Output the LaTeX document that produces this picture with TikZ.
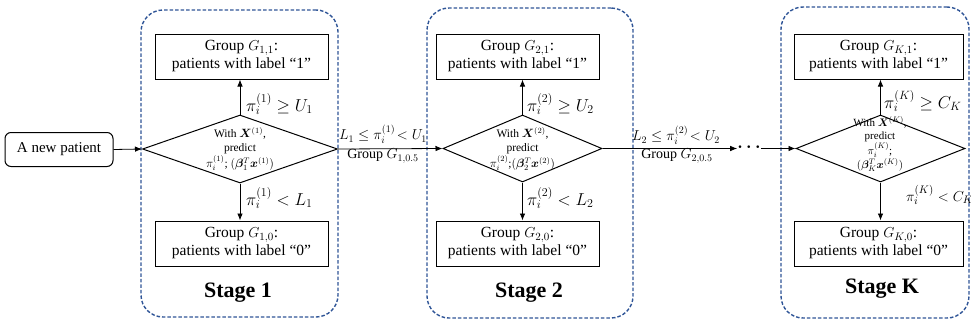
\documentclass[tikz,border=0pt]{standalone}
\usepackage{fontspec}
\usepackage{bm}
\setmainfont{Liberation Serif}
\usetikzlibrary{shapes.geometric,arrows.meta}
\definecolor{stageblue}{HTML}{2F5597}
\tikzset{
  stagebox/.style={draw=stageblue,line width=1.4pt,dash pattern=on 3.5pt off 2pt,rounded corners=22pt,inner sep=0},
  groupbox/.style={draw,line width=1pt,minimum width=#1,minimum height=45pt,inner sep=0,align=center,font=\fontsize{15.5}{18}\selectfont},
  decision/.style={draw,diamond,line width=1pt,inner sep=0},
  dtext/.style={align=center,font=\fontsize{11.5}{14}\selectfont,inner sep=0},
  arr/.style={-{Latex[length=7pt,width=5.5pt]},line width=0.8pt},
  cond/.style={anchor=west,font=\fontsize{16.5}{18}\selectfont,inner sep=0},
  elab/.style={font=\fontsize{14}{16}\selectfont,inner sep=0},
  stagelab/.style={font=\fontsize{22}{26}\selectfont\bfseries}
}
\begin{document}
\begin{tikzpicture}[x=1pt,y=-1pt]
\useasboundingbox (0,0) rectangle (971,324);
% stage containers
\node[stagebox,minimum width=197pt,minimum height=307pt] (s1) at (239.5,163.5) {};
\node[stagebox,minimum width=206pt,minimum height=310pt] (s2) at (530,163) {};
\node[stagebox,minimum width=188pt,minimum height=311pt] (sK) at (875,162.5) {};
% new patient
\node[draw,line width=1pt,rounded corners=6pt,minimum width=108pt,minimum height=34pt,font=\fontsize{15}{17}\selectfont] (np) at (59,149.5) {A new patient};
% stage 1
\node[decision,minimum width=195pt,minimum height=68pt] (d1) at (240,149) {};
\node[dtext] (t1) at (240,149) {With $\bm{X}^{(1)}$,\\predict\\$\pi_i^{(1)}$; $(\bm{\beta}_1^T\bm{x}^{(1)})$};
\node[groupbox=173pt] (g11) at (241.5,56.5) {Group $G_{1,1}$:\\patients with label “1”};
\node[groupbox=173pt] (g10) at (241.5,243.5) {Group $G_{1,0}$:\\patients with label “0”};
\draw[arr] (d1.north) -- (d1.north|-g11.south);
\draw[arr] (d1.south) -- (d1.south|-g10.north);
\node[cond] (c11) at (246,104) {$\pi_i^{(1)} \ge U_1$};
\node[cond] (c10) at (246,198) {$\pi_i^{(1)} < L_1$};
\node[stagelab] (l1) at (238,293) {Stage 1};
% stage 2
\node[decision,minimum width=159pt,minimum height=67pt] (d2) at (522.5,148.5) {};
\node[dtext] (t2) at (522.5,149) {With $\bm{X}^{(2)}$,\\predict\\$\pi_i^{(2)}$;$(\bm{\beta}_2^T\bm{x}^{(2)})$};
\node[groupbox=163pt] (g21) at (517.5,56.5) {Group $G_{2,1}$:\\patients with label “1”};
\node[groupbox=163pt] (g20) at (517.5,243.5) {Group $G_{2,0}$:\\patients with label “0”};
\draw[arr] (d2.north) -- (d2.north|-g21.south);
\draw[arr] (d2.south) -- (d2.south|-g20.north);
\node[cond] (c21) at (527,104) {$\pi_i^{(2)} \ge U_2$};
\node[cond] (c20) at (527,198) {$\pi_i^{(2)} < L_2$};
\node[stagelab] (l2) at (529,293) {Stage 2};
% stage K
\node[decision,minimum width=169pt,minimum height=67pt] (dK) at (880.5,148.5) {};
\node[dtext,font=\fontsize{11}{13}\selectfont] (tK) at (880,144) {With $\bm{X}^{(K)}$,\\predict\\$\pi_i^{(K)}$;\\$(\bm{\beta}_K^T\bm{x}^{(K)})$};
\node[groupbox=169pt] (gK1) at (878.5,56.5) {Group $G_{K,1}$:\\patients with label “1”};
\node[groupbox=169pt] (gK0) at (878.5,243.5) {Group $G_{K,0}$:\\patients with label “0”};
\draw[arr] (dK.north) -- (dK.north|-gK1.south);
\draw[arr] (dK.south) -- (dK.south|-gK0.north);
\node[cond] (cK1) at (884,101) {$\pi_i^{(K)} \ge C_K$};
\node[cond,font=\fontsize{15.5}{18}\selectfont] (cK0) at (906,195) {$\pi_i^{(K)} < C_K$};
\node[stagelab] (lK) at (882,289) {Stage K};
% horizontal flow
\draw[arr] (np.east) -- (d1.west);
\draw[arr] (d1.east) -- (d2.west);
\node[elab] (e1a) at (383,134) {$L_1 \le \pi_i^{(1)}\!< U_1$};
\node[elab] (e1b) at (383,156) {Group $G_{1,0.5}$};
\node[inner sep=0,font=\fontsize{18}{18}\selectfont] (dots) at (749,147.5) {$\bm{\cdots}$};
\draw[arr] (d2.east) -- (dots.west|-d2.east);
\draw[arr] (dots.east|-dK.west) -- (dK.west);
\node[elab] (e2a) at (676,135) {$L_2 \le \pi_i^{(2)}\!< U_2$};
\node[elab] (e2b) at (677,156) {Group $G_{2,0.5}$};
\end{tikzpicture}
\end{document}
